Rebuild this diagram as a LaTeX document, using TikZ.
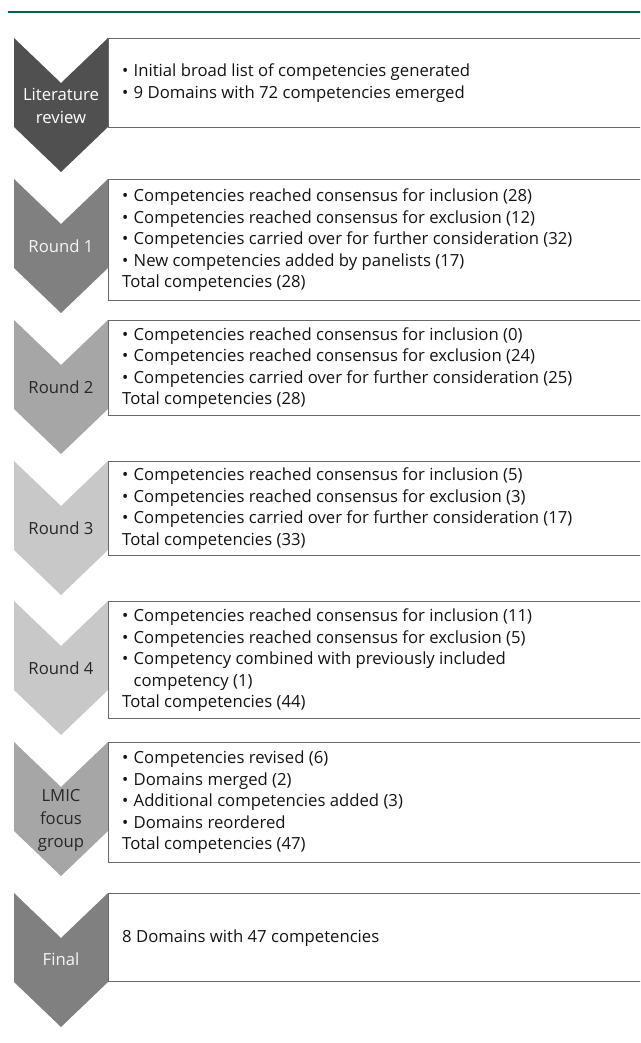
\documentclass[tikz,border=0pt]{standalone}
\usepackage{fontspec}
\setmainfont{Open Sans}
\definecolor{topgreen}{RGB}{0,102,72}
\definecolor{boxgray}{RGB}{105,105,105}
\definecolor{txt}{RGB}{20,20,20}
\definecolor{cA}{RGB}{80,80,80}
\definecolor{cB}{RGB}{128,128,128}
\definecolor{cC}{RGB}{166,166,166}
\definecolor{cD}{RGB}{200,200,200}
\definecolor{labdark}{RGB}{40,40,40}
\definecolor{lablight}{RGB}{245,245,245}
\newcommand\bul{\makebox[11.5pt][l]{•}}
\newcommand\chev[2]{\fill[#1] (14,#2) -- (61,#2+45) -- (108,#2) -- (108,#2+89) -- (61,#2+134) -- (14,#2+89) -- cycle;}
\tikzset{
  box/.style={draw=boxgray, line width=1.3pt, fill=white, rectangle, anchor=north west, minimum width=600pt, inner sep=0pt},
  body/.style={anchor=west, align=left, inner sep=0pt, font=\fontsize{16.7}{21.5}\selectfont, text=txt},
  lab/.style={align=center, inner sep=0pt, font=\fontsize{16.7}{23}\selectfont}
}
\begin{document}
\begin{tikzpicture}[x=1pt,y=-1pt]
\useasboundingbox (0,0) rectangle (640,1043);
\begin{scope}
\clip (0,0) rectangle (640,1043);
\draw[topgreen, line width=2.5pt] (8,12) -- (641,12);
% chevrons
\chev{cA}{38}
\chev{cB}{179}
\chev{cC}{320}
\chev{cD}{461}
\chev{cD}{601}
\chev{cC}{742}
\chev{cB}{893}
% labels
\node[lab, text=white] (l1) at (61,106) {Literature\\review};
\node[lab, text=lablight] (l2) at (61,246) {Round 1};
\node[lab, text=labdark] (l3) at (61,387) {Round 2};
\node[lab, text=labdark] (l4) at (61,528) {Round 3};
\node[lab, text=labdark] (l5) at (61,668) {Round 4};
\node[lab, text=labdark] (l6) at (61,820) {LMIC\\focus\\group};
\node[lab, text=lablight] (l7) at (61,959) {Final};
% boxes
\node[box, minimum height=89pt] (b1) at (108,38) {};
\node[box, minimum height=121pt] (b2) at (108,179) {};
\node[box, minimum height=95pt] (b3) at (108,320) {};
\node[box, minimum height=94pt] (b4) at (108,461) {};
\node[box, minimum height=117pt] (b5) at (108,601) {};
\node[box, minimum height=120pt] (b6) at (108,742) {};
\node[box, minimum height=88pt] (b7) at (108,893) {};
% texts
\node[body] (t1) at ([xshift=14pt]b1.west) {\bul Initial broad list of competencies generated\\\bul 9 Domains with 72 competencies emerged};
\node[body] (t2) at ([xshift=14pt]b2.west) {\bul Competencies reached consensus for inclusion (28)\\\bul Competencies reached consensus for exclusion (12)\\\bul Competencies carried over for further consideration (32)\\\bul New competencies added by panelists (17)\\Total competencies (28)};
\node[body] (t3) at ([xshift=14pt]b3.west) {\bul Competencies reached consensus for inclusion (0)\\\bul Competencies reached consensus for exclusion (24)\\\bul Competencies carried over for further consideration (25)\\Total competencies (28)};
\node[body] (t4) at ([xshift=14pt]b4.west) {\bul Competencies reached consensus for inclusion (5)\\\bul Competencies reached consensus for exclusion (3)\\\bul Competencies carried over for further consideration (17)\\Total competencies (33)};
\node[body] (t5) at ([xshift=14pt]b5.west) {\bul Competencies reached consensus for inclusion (11)\\\bul Competencies reached consensus for exclusion (5)\\\bul Competency combined with previously included\\\hspace*{11.5pt}competency (1)\\Total competencies (44)};
\node[body] (t6) at ([xshift=14pt]b6.west) {\bul Competencies revised (6)\\\bul Domains merged (2)\\\bul Additional competencies added (3)\\\bul Domains reordered\\Total competencies (47)};
\node[body] (t7) at ([xshift=14pt]b7.west) {8 Domains with 47 competencies};
\end{scope}
\end{tikzpicture}
\end{document}
